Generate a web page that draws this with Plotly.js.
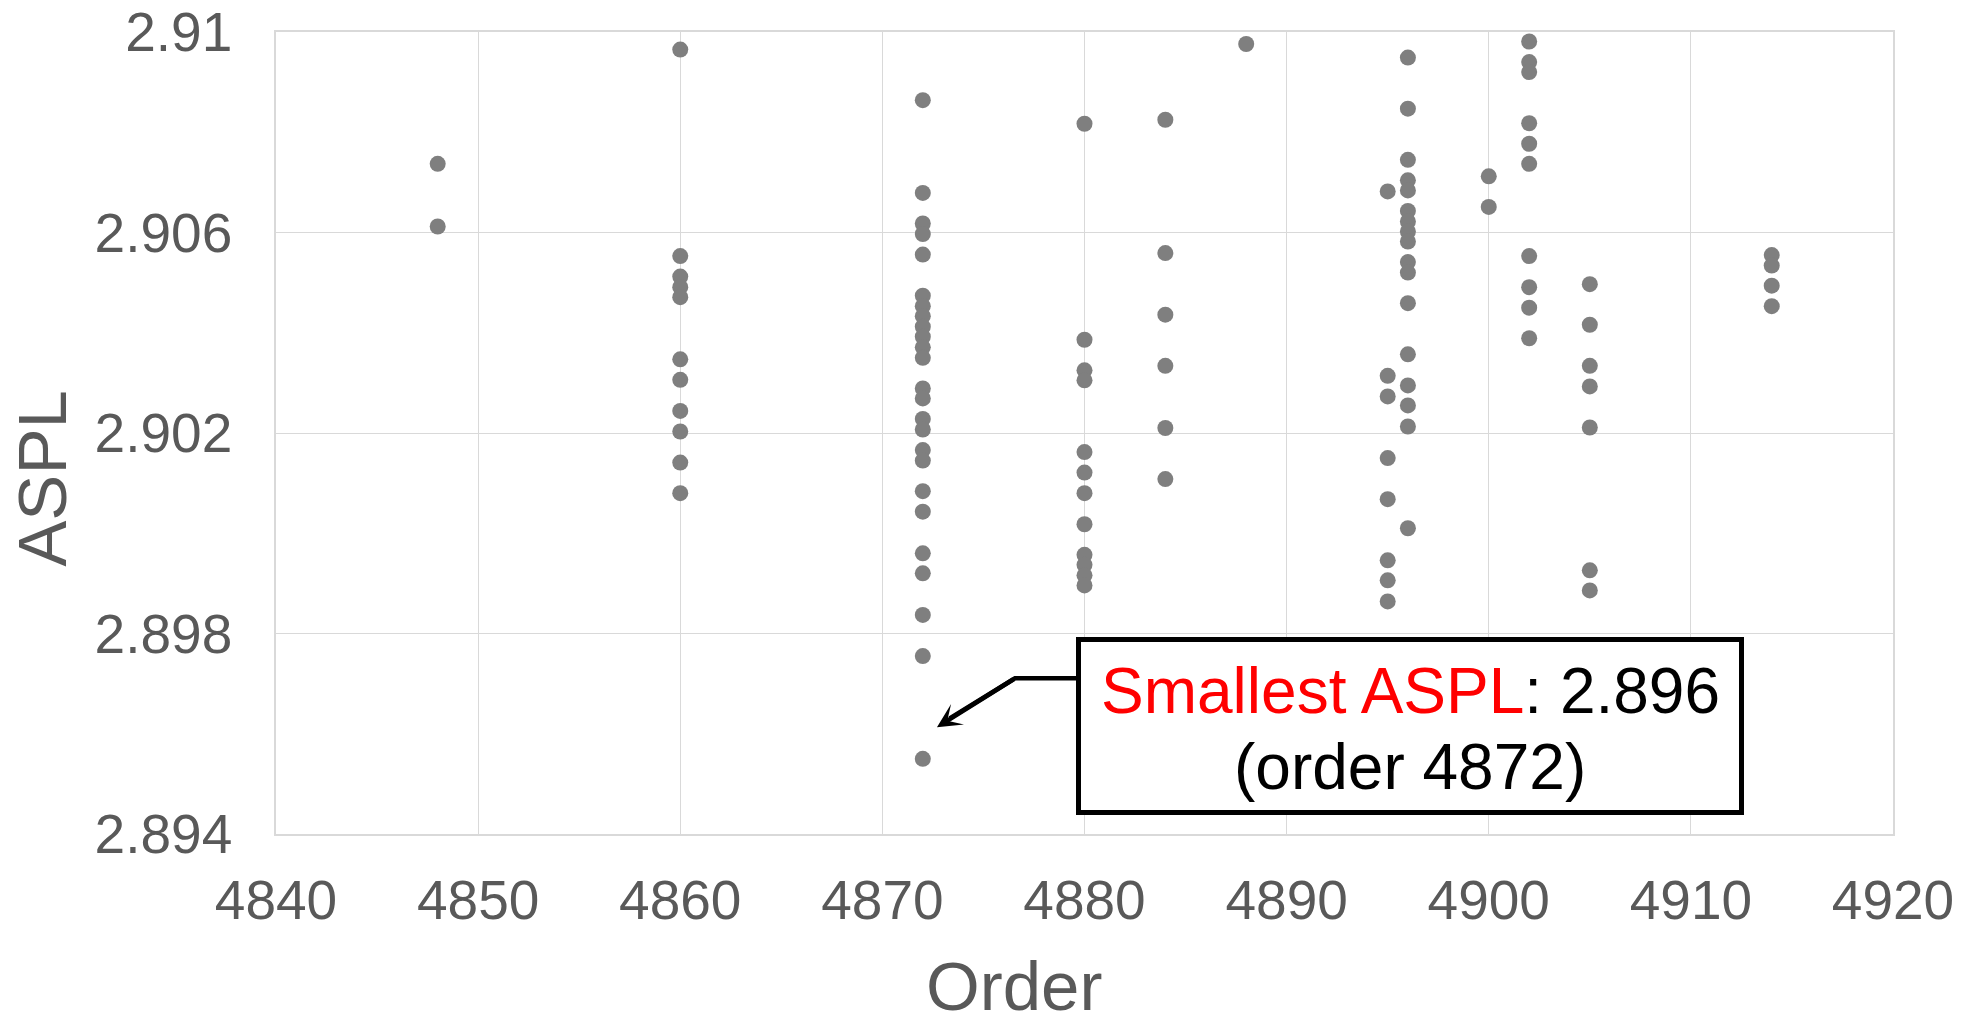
<!DOCTYPE html>
<html>
<head>
<meta charset="utf-8">
<script src="https://cdn.plot.ly/plotly-3.0.1.min.js"></script>
<style>html,body{margin:0;padding:0;background:#fff;}#chart{width:1970px;height:1027px;}</style>
</head>
<body>
<div id="chart"></div>
<script>
// ---- data (ASPL values per order) ----
const orders = [4848, 4860, 4872, 4880, 4884, 4888, 4895, 4896, 4900, 4902, 4905, 4914];
const aspl4848 = [2.90737, 2.90612];
const aspl4860 = [2.90965, 2.90553, 2.90512, 2.90491, 2.90471, 2.90347, 2.90306, 2.90244, 2.90203, 2.90141, 2.90080];
const aspl4872 = [2.90864, 2.90679, 2.90618, 2.90597, 2.90556, 2.90474, 2.90453, 2.90433, 2.90412, 2.90392, 2.90371, 2.90350, 2.90289, 2.90269, 2.90228, 2.90207, 2.90166, 2.90145, 2.90084, 2.90043, 2.89960, 2.89920, 2.89837, 2.89755, 2.89550];
const aspl4880 = [2.90817, 2.90386, 2.90325, 2.90305, 2.90162, 2.90121, 2.90080, 2.90018, 2.89957, 2.89937, 2.89916, 2.89896];
const aspl4884 = [2.90825, 2.90559, 2.90436, 2.90334, 2.90210, 2.90108];
const aspl4888 = [2.90976];
const aspl4895 = [2.90682, 2.90314, 2.90273, 2.90150, 2.90068, 2.89946, 2.89906, 2.89864];
const aspl4896 = [2.90949, 2.90847, 2.90745, 2.90704, 2.90684, 2.90643, 2.90622, 2.90602, 2.90582, 2.90541, 2.90520, 2.90459, 2.90357, 2.90295, 2.90255, 2.90213, 2.90010];
const aspl4900 = [2.90712, 2.90651];
const aspl4902 = [2.90981, 2.90940, 2.90920, 2.90818, 2.90777, 2.90737, 2.90553, 2.90491, 2.90450, 2.90389];
const aspl4905 = [2.90497, 2.90416, 2.90334, 2.90293, 2.90211, 2.89926, 2.89886];
const aspl4914 = [2.90555, 2.90534, 2.90494, 2.90453];

const xTickVals = [4840, 4850, 4860, 4870, 4880, 4890, 4900, 4910, 4920];
const xTickLabels = ["4840", "4850", "4860", "4870", "4880", "4890", "4900", "4910", "4920"];
const yTickVals = [2.894, 2.898, 2.902, 2.906, 2.91];
const yTickLabels = ["2.894", "2.898", "2.902", "2.906", "2.91"];

const bestOrder = 4872;
const bestASPL = 2.896;
const xTitle = "Order";
const yTitle = "ASPL";

// ---- build trace ----
const groups = [aspl4848, aspl4860, aspl4872, aspl4880, aspl4884, aspl4888, aspl4895, aspl4896, aspl4900, aspl4902, aspl4905, aspl4914];
const xs = [], ys = [];
groups.forEach((g, i) => g.forEach(v => { xs.push(orders[i]); ys.push(v); }));

const gray = '#595959';
const font = 'Liberation Sans, Arial, sans-serif';

const trace = {
  type: 'scatter', mode: 'markers', x: xs, y: ys,
  marker: {color: '#7f7f7f', size: 16},
  hoverinfo: 'x+y', showlegend: false
};

// annotation geometry (data coordinates)
const tip = {x: 4872.7, y: 2.89613};
const elbow = {x: 4876.56, y: 2.897106};
const boxLeft = {x: 4879.6, y: 2.897106};
const nearTip = {x: 4873.33, y: 2.896308};
const boxCenter = {x: 4896.11, y: 2.896145};
const line1Y = 2.89686;
const line2Y = 2.89534;

const layout = {
  width: 1970, height: 1027,
  margin: {l: 276, r: 77, t: 32, b: 193},
  paper_bgcolor: '#ffffff', plot_bgcolor: '#ffffff',
  font: {family: font, color: gray},
  xaxis: {
    range: [4840, 4920], tickvals: xTickVals, ticktext: xTickLabels,
    showgrid: true, gridcolor: '#d9d9d9', gridwidth: 1.3,
    zeroline: false, showline: true, linecolor: '#d9d9d9', linewidth: 1.5, mirror: true,
    ticks: '', ticklabelstandoff: 17,
    tickfont: {family: font, size: 55, color: gray}
  },
  yaxis: {
    range: [2.894, 2.91], tickvals: yTickVals, ticktext: yTickLabels,
    showgrid: true, gridcolor: '#d9d9d9', gridwidth: 1.3,
    zeroline: false, showline: true, linecolor: '#d9d9d9', linewidth: 1.5, mirror: true,
    ticks: '', ticklabelstandoff: 31,
    tickfont: {family: font, size: 55, color: gray}
  },
  shapes: [{
    type: 'path', xref: 'x', yref: 'y',
    path: 'M' + boxLeft.x + ',' + boxLeft.y + ' L' + elbow.x + ',' + elbow.y + ' L' + nearTip.x + ',' + nearTip.y,
    line: {color: '#000000', width: 4.5}
  }],
  annotations: [
    {
      xref: 'x', yref: 'y', x: tip.x, y: tip.y,
      axref: 'x', ayref: 'y', ax: elbow.x, ay: elbow.y,
      text: '', showarrow: true, arrowhead: 3, arrowsize: 0.9, arrowwidth: 4.5, arrowcolor: '#000000'
    },
    {
      xref: 'x', yref: 'y', x: boxCenter.x, y: boxCenter.y, xanchor: 'center', yanchor: 'middle',
      width: 658, height: 168, showarrow: false,
      bgcolor: '#ffffff', bordercolor: '#000000', borderwidth: 5, borderpad: 0,
      text: ''
    },
    {
      xref: 'x', yref: 'y', x: boxCenter.x, y: line1Y, xanchor: 'center', yanchor: 'middle',
      showarrow: false, font: {family: font, size: 64, color: '#000000'},
      text: '<span style="color:#ff0000">Smallest ASPL</span>: ' + bestASPL.toFixed(3)
    },
    {
      xref: 'x', yref: 'y', x: boxCenter.x, y: line2Y, xanchor: 'center', yanchor: 'middle',
      showarrow: false, font: {family: font, size: 64, color: '#000000'},
      text: '(order ' + bestOrder + ')'
    },
    {
      xref: 'paper', yref: 'paper', x: -0.1445, y: 0.4435, xanchor: 'center', yanchor: 'middle',
      textangle: -90, showarrow: false, text: yTitle,
      font: {family: font, size: 69, color: gray}
    },
    {
      xref: 'paper', yref: 'paper', x: 0.4564, y: -0.2395, xanchor: 'center', yanchor: 'bottom',
      showarrow: false, text: xTitle, borderpad: 0,
      font: {family: font, size: 69, color: gray}
    }
  ]
};

Plotly.newPlot('chart', [trace], layout, {displayModeBar: false, responsive: false});
</script>
</body>
</html>
